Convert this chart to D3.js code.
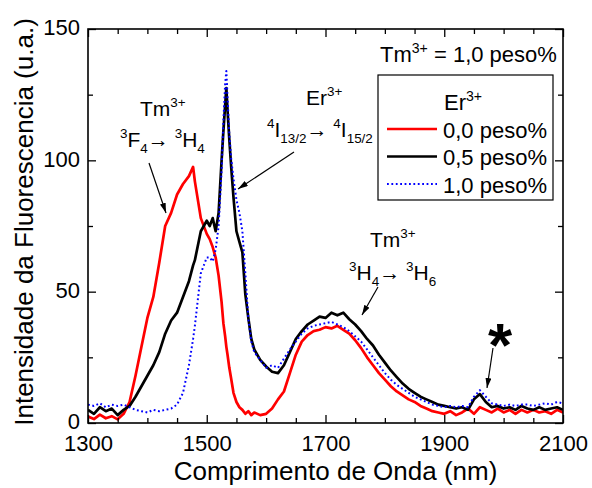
<!DOCTYPE html>
<html>
<head>
<meta charset="utf-8">
<script src="https://cdn.jsdelivr.net/npm/d3@7"></script>
<style>
  html, body { margin: 0; padding: 0; background: #fff; }
  svg { display: block; font-family: "Liberation Sans", Arial, sans-serif; }
</style>
</head>
<body>
<svg id="chart" width="592" height="488"></svg>
<script>
// Emission spectra, Tm3+ = 1,0 peso% with varying Er3+ content
const wavelength = [
  1300,1310,1320,1330,1340,1350,1360,1370,1380,1390,1400,1410,1420,1430,1440,1450,1460,1470,1477,1480,1490,1500,
  1505,1510,1515,1520,1525,1528,1531,1533,1535,1538,1541,1545,1550,1555,1560,1565,1570,1575,1580,
  1590,1600,1610,1620,1630,1640,1650,1660,1670,1680,1690,1700,1710,1720,1730,1740,1750,1760,1770,1780,1790,
  1800,1810,1820,1830,1840,1850,1860,1870,1880,1890,1900,1910,1920,1930,1940,1950,1960,1970,1980,1990,
  2000,2010,2020,2030,2040,2050,2060,2070,2080,2090,2100
];
const er00 = [
  2.5,1.5,3.2,1.8,2.6,1.4,3.5,8,18,29,40,48,61,75,80,87,91,94,97.5,92,78,72,
  70,67,63,56,46,38,33,29,26,21,17,11.5,8,6,5,3.5,4.5,3,4,
  3,3.5,5.5,9,12,19,26,31,33.5,35,35.5,36.5,36,37,35.5,34,31.5,28.5,25,22,19,
  16.5,14,12,10.5,9,8,6.5,5.5,4.5,4,3.5,4.5,3,4,5.5,3.5,6,5,4,5.5,
  4,5,3.5,5,4,5,4,4.5,3.5,5,4
];
const er05 = [
  5,3.5,6,4.5,5.5,3,5,6.5,10,14,18,22,27,34,39,42,48,54,60,62,73,77,
  75,78,73,80,100,111,121,127.5,119,108,98,86,73,69,65,49,40,32,28,
  24,21.5,19.5,19,22,27,32,35,37.5,39,40.5,40,42,41,42,39.5,37.5,35,32,29.5,26,
  23,20,17.5,15,13,11.5,10,9,8,7,6.5,6,5.5,6,5,9,11,8,6,6.5,
  5.5,6,5,6.5,5.5,5,6,5,5.5,6,5
];
const er10 = [
  7,6.5,7.5,6,7,6.5,7,6,5,4.5,4,5,4.5,5,5.5,7,11.5,22,32,37,57,63,
  63,61.5,66,75,96,115,129,134,124,110,101,93,85,80,73,57,40,31,27,
  24,21,22,21,24.5,28,31,34,36,37,37.5,38,38.5,37.5,36.5,35,33,31,28,25,22,
  19,16.5,14.5,13,11.5,10,9,8,7,6.5,6,6.5,6,6.5,6,10,12.5,10,7.5,7,
  6.5,7,6.5,7,7,6.5,7,7.5,7,8,7.5
];
const seriesNames = ["0,0 peso%", "0,5 peso%", "1,0 peso%"];
const seriesColors = ["#ff0000", "#000000", "#0000ff"];
const xTicks = [1300, 1500, 1700, 1900, 2100];
const yTicks = [0, 50, 100, 150];

const svg = d3.select("#chart");
const frame = { left: 88, right: 563, top: 29, bottom: 423 };

const x = d3.scaleLinear().domain([1300, 2100]).range([frame.left, frame.right]);
const y = d3.scaleLinear().domain([0, 150]).range([frame.bottom, frame.top]);

const defs = svg.append("defs");
// clip the traces to the frame
defs.append("clipPath").attr("id", "plotClip")
  .append("rect").attr("x", frame.left).attr("y", frame.top)
  .attr("width", frame.right - frame.left).attr("height", frame.bottom - frame.top);

const line = d3.line().x(d => x(d[0])).y(d => y(d[1]));
const traces = [er00, er05, er10].map(vals => wavelength.map((w, i) => [w, vals[i]]));

const plot = svg.append("g").attr("clip-path", "url(#plotClip)");
traces.forEach((pts, i) => {
  const p = plot.append("path")
    .attr("d", line(pts))
    .attr("fill", "none")
    .attr("stroke", seriesColors[i])
    .attr("stroke-linejoin", "round");
  if (i === 2) p.attr("stroke-width", 2).attr("stroke-dasharray", "1.8,2.6");
  else p.attr("stroke-width", 2.7);
});

// axes: inward ticks on all four sides
const xMinor = d3.range(1300, 2101, 50).filter(v => !xTicks.includes(v));
const yMinor = [25, 75, 125];
function styleAxis(g) {
  g.select(".domain").remove();
  g.selectAll("line").attr("stroke", "#000").attr("stroke-width", 1.3);
  g.selectAll("text").attr("font-size", 22).attr("fill", "#000")
    .attr("font-family", '"Liberation Sans", Arial, sans-serif');
}
svg.append("g").attr("transform", `translate(0,${frame.bottom})`)
  .call(d3.axisBottom(x).tickValues(xTicks).tickSize(-8).tickPadding(12).tickFormat(d3.format("d")))
  .call(styleAxis);
svg.append("g").attr("transform", `translate(0,${frame.bottom})`)
  .call(d3.axisBottom(x).tickValues(xMinor).tickSize(-5).tickFormat(""))
  .call(styleAxis);
svg.append("g").attr("transform", `translate(0,${frame.top})`)
  .call(d3.axisTop(x).tickValues(xTicks).tickSize(-8).tickFormat(""))
  .call(styleAxis);
svg.append("g").attr("transform", `translate(0,${frame.top})`)
  .call(d3.axisTop(x).tickValues(xMinor).tickSize(-5).tickFormat(""))
  .call(styleAxis);
svg.append("g").attr("transform", `translate(${frame.left},0)`)
  .call(d3.axisLeft(y).tickValues(yTicks).tickSize(-8).tickPadding(8))
  .call(styleAxis)
  .call(g => g.selectAll("text").attr("dy", "0.26em"));
svg.append("g").attr("transform", `translate(${frame.left},0)`)
  .call(d3.axisLeft(y).tickValues(yMinor).tickSize(-5).tickFormat(""))
  .call(styleAxis);
svg.append("g").attr("transform", `translate(${frame.right},0)`)
  .call(d3.axisRight(y).tickValues(yTicks).tickSize(-8).tickFormat(""))
  .call(styleAxis);
svg.append("g").attr("transform", `translate(${frame.right},0)`)
  .call(d3.axisRight(y).tickValues(yMinor).tickSize(-5).tickFormat(""))
  .call(styleAxis);

svg.append("rect").attr("x", frame.left).attr("y", frame.top)
  .attr("width", frame.right - frame.left).attr("height", frame.bottom - frame.top)
  .attr("fill", "none").attr("stroke", "#000").attr("stroke-width", 1.6);

// axis titles
svg.append("text").attr("x", (frame.left + frame.right) / 2 + 10).attr("y", 480)
  .attr("text-anchor", "middle").attr("font-size", 26).text("Comprimento de Onda (nm)");
svg.append("text").attr("transform", "translate(33,222) rotate(-90)")
  .attr("text-anchor", "middle").attr("font-size", 26).text("Intensidade da Fluorescencia  (u.a.)");

// text with superscripts / subscripts; parts = [[text, kind]], kind: n | sup | sub
function rich(xp, yp, parts, size) {
  const t = svg.append("text").attr("x", xp).attr("y", yp).attr("font-size", size);
  let shift = 0;
  parts.forEach(([s, kind]) => {
    let target = 0, fs = size;
    if (kind === "sup") { target = -0.42 * size; fs = 0.64 * size; }
    if (kind === "sub") { target = 0.3 * size; fs = 0.64 * size; }
    t.append("tspan").attr("dy", target - shift).attr("font-size", fs).text(s);
    shift = target;
  });
  return t;
}

// arrows with filled heads
const marker = defs.append("marker").attr("id", "head")
  .attr("viewBox", "0 0 10 6").attr("refX", 10).attr("refY", 3)
  .attr("markerWidth", 10).attr("markerHeight", 6).attr("markerUnits", "userSpaceOnUse")
  .attr("orient", "auto");
marker.append("path").attr("d", "M0,0 L10,3 L0,6 Z").attr("fill", "#000");
function arrow(x1, y1, x2, y2) {
  svg.append("line").attr("x1", x1).attr("y1", y1).attr("x2", x2).attr("y2", y2)
    .attr("stroke", "#000").attr("stroke-width", 1.2).attr("marker-end", "url(#head)");
}

// Tm3+ 3F4 -> 3H4
rich(140, 116, [["Tm", "n"], ["3+", "sup"]], 21);
rich(120, 147, [["3", "sup"], ["F", "n"], ["4", "sub"], ["\u2192 ", "n"], ["3", "sup"], ["H", "n"], ["4", "sub"]], 21);
arrow(149, 163, 166, 213);

// Er3+ 4I13/2 -> 4I15/2
rich(306, 105, [["Er", "n"], ["3+", "sup"]], 21);
rich(267, 137, [["4", "sup"], ["I", "n"], ["13/2", "sub"], ["\u2192 ", "n"], ["4", "sup"], ["I", "n"], ["15/2", "sub"]], 21);
arrow(294, 152, 238, 189);

// Tm3+ 3H4 -> 3H6
rich(370, 247, [["Tm", "n"], ["3+", "sup"]], 21);
rich(349, 280, [["3", "sup"], ["H", "n"], ["4", "sub"], ["\u2192 ", "n"], ["3", "sup"], ["H", "n"], ["6", "sub"]], 21);
arrow(378, 287, 362, 315);

// marked band near 1960 nm
svg.append("text").attr("x", 500).attr("y", 366).attr("text-anchor", "middle")
  .attr("font-size", 62).attr("font-weight", "bold").text("*");
arrow(493, 348, 487, 388);

// legend
rich(380, 62, [["Tm", "n"], ["3+", "sup"], [" = 1,0 peso%", "n"]], 22);
svg.append("rect").attr("x", 378).attr("y", 75).attr("width", 175).attr("height", 125)
  .attr("fill", "#fff").attr("stroke", "#000").attr("stroke-width", 1.2);
rich(444, 110, [["Er", "n"], ["3+", "sup"]], 22);
seriesNames.forEach((name, i) => {
  const ly = 129 + i * 27.5;
  const l = svg.append("line").attr("x1", 387).attr("x2", 437).attr("y1", ly).attr("y2", ly)
    .attr("stroke", seriesColors[i]);
  if (i === 2) l.attr("stroke-width", 2).attr("stroke-dasharray", "1.8,2.6");
  else l.attr("stroke-width", 2.4);
  svg.append("text").attr("x", 443).attr("y", ly + 8.5).attr("font-size", 22).text(name);
});
</script>
</body>
</html>
